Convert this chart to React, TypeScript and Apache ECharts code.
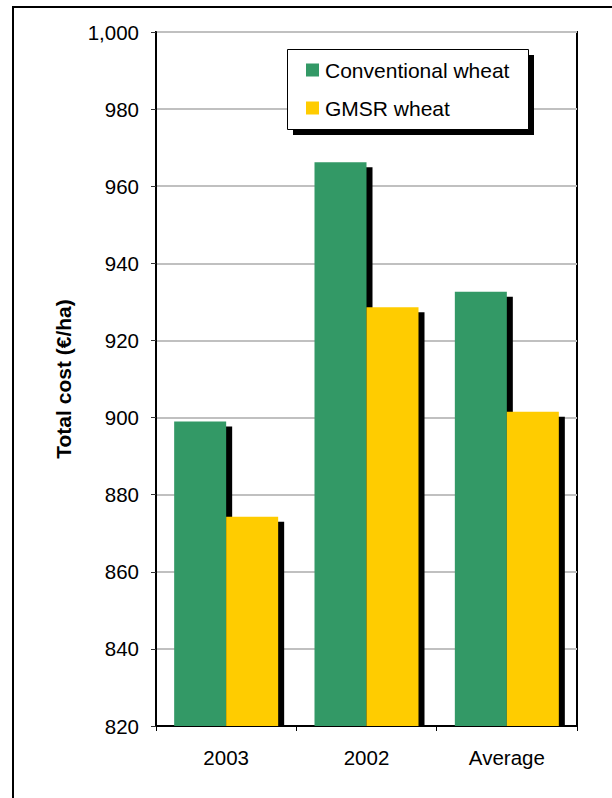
import React, { useEffect, useRef } from "react";
import * as echarts from "echarts";

const categories = ["2003", "2002", "Average"];
const conventionalWheat = [899.0, 966.2, 932.6];
const gmsrWheat = [874.3, 928.6, 901.5];
const seriesNames = ["Conventional wheat", "GMSR wheat"];
const yMin = 820;
const yMax = 1000;
const yStep = 20;

const GREEN = "#339966";
const YELLOW = "#FFCC00";
const BAR_WIDTH = 52;
const SHADOW_DX = 6;
const SHADOW_DY = 5;

export default function App() {
  const ref = useRef<HTMLDivElement>(null);

  useEffect(() => {
    if (!ref.current) return;
    const chart = echarts.init(ref.current, undefined, { renderer: "svg" });

    // [category index, value, series index] for the drop shadows
    const shadowData: number[][] = [];
    [conventionalWheat, gmsrWheat].forEach((vals, s) =>
      vals.forEach((v, i) => shadowData.push([i, v, s]))
    );

    const font = "Arial, 'Liberation Sans', sans-serif";

    chart.setOption({
      animation: false,
      backgroundColor: "#ffffff",
      textStyle: { fontFamily: font },
      grid: {
        left: 156,
        top: 32,
        right: 35,
        bottom: 72,
        show: true,
        borderColor: "#000",
        borderWidth: 2,
        backgroundColor: "transparent",
      },
      legend: {
        data: seriesNames,
        orient: "vertical",
        left: 306,
        top: 59,
        itemWidth: 13,
        itemHeight: 13,
        itemGap: 16,
        icon: "rect",
        padding: 0,
        z: 20,
        textStyle: {
          fontSize: 21,
          color: "#000",
          fontFamily: font,
          padding: [0, 0, 0, 1],
          lineHeight: 22,
        },
      },
      xAxis: {
        type: "category",
        data: categories,
        boundaryGap: true,
        axisLine: { show: true, lineStyle: { color: "#000", width: 2 } },
        axisTick: { show: true, length: 5, lineStyle: { color: "#000", width: 1 } },
        axisLabel: { fontSize: 20.5, color: "#000", margin: 21, fontFamily: font },
        splitLine: { show: false },
      },
      yAxis: {
        type: "value",
        min: yMin,
        max: yMax,
        interval: yStep,
        name: "Total cost (€/ha)",
        nameLocation: "middle",
        nameRotate: 90,
        nameGap: 82,
        nameTextStyle: { fontSize: 21, fontWeight: "bold", color: "#000", fontFamily: font },
        axisLine: { show: true, lineStyle: { color: "#000", width: 2 } },
        axisTick: { show: true, length: 5, lineStyle: { color: "#333", width: 1 } },
        axisLabel: {
          fontSize: 20.5,
          color: "#000",
          margin: 17,
          fontFamily: font,
          formatter: (v: number) => v.toLocaleString("en-US"),
        },
        splitLine: { show: true, lineStyle: { color: "#c0c0c0", width: 2 } },
      },
      graphic: [
        {
          type: "rect",
          shape: { x: 13, y: 7, width: 700, height: 900 },
          style: { fill: "none", stroke: "#000", lineWidth: 2 },
          z: 1,
          silent: true,
        },
        {
          type: "rect",
          shape: { x: 293, y: 55, width: 241, height: 80 },
          style: { fill: "#000" },
          z: 10,
          silent: true,
        },
        {
          type: "rect",
          shape: { x: 287.5, y: 49.5, width: 241, height: 80 },
          style: { fill: "#fff", stroke: "#000", lineWidth: 1 },
          z: 11,
          silent: true,
        },
      ],
      series: [
        {
          type: "custom",
          name: "shadow",
          z: 1,
          silent: true,
          data: shadowData,
          renderItem: (params: any, api: any) => {
            const idx = api.value(0);
            const val = api.value(1);
            const s = api.value(2);
            const top = api.coord([idx, val]);
            const base = api.coord([idx, yMin]);
            const left = top[0] + (s === 0 ? -BAR_WIDTH : 0) + SHADOW_DX;
            const y = top[1] + SHADOW_DY;
            return {
              type: "rect",
              shape: { x: left, y, width: BAR_WIDTH, height: base[1] - y },
              style: { fill: "#000" },
            };
          },
        },
        {
          type: "bar",
          name: seriesNames[0],
          data: conventionalWheat,
          barWidth: BAR_WIDTH,
          barGap: "0%",
          z: 2,
          itemStyle: { color: GREEN },
        },
        {
          type: "bar",
          name: seriesNames[1],
          data: gmsrWheat,
          barWidth: BAR_WIDTH,
          barGap: "0%",
          z: 2,
          itemStyle: { color: YELLOW },
        },
      ],
    });

    return () => chart.dispose();
  }, []);

  return (
    <div
      ref={ref}
      style={{ position: "fixed", left: 0, top: 0, width: 612, height: 798 }}
    />
  );
}
